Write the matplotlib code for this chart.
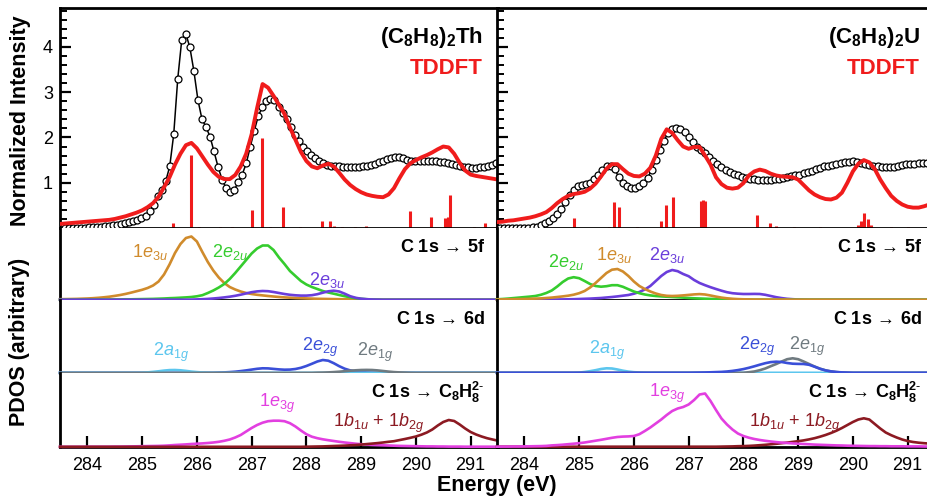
import numpy as np
import matplotlib
matplotlib.use("Agg")
import matplotlib.pyplot as plt
from matplotlib.ticker import MultipleLocator

plt.rcParams['font.family'] = ['Liberation Sans', 'DejaVu Sans']
plt.rcParams['mathtext.fontset'] = 'custom'
plt.rcParams['mathtext.rm'] = 'Liberation Sans'
plt.rcParams['mathtext.it'] = 'Liberation Sans:italic'
plt.rcParams['mathtext.bf'] = 'Liberation Sans:bold'

# ---------------------------------------------------------------- data
# common energy grid (eV) for the TDDFT spectra and PDOS curves
energy = np.round(np.arange(283.5, 291.55, 0.1), 2)

# experimental C K-edge spectra (sampled every ~0.074 eV)
th_exp_energy = np.round(283.59 + 0.0736 * np.arange(108), 3)
th_exp = [0.00, 0.00, 0.00, 0.01, 0.01, 0.01, 0.02, 0.02, 0.03, 0.03,
          0.04, 0.05, 0.06, 0.07, 0.09, 0.11, 0.13, 0.15, 0.17, 0.22,
          0.27, 0.37, 0.51, 0.70, 0.85, 1.03, 1.36, 2.07, 3.30, 4.16,
          4.29, 3.99, 3.47, 2.83, 2.41, 2.23, 2.02, 1.69, 1.35, 1.07,
          0.88, 0.79, 0.84, 1.01, 1.18, 1.43, 1.80, 2.15, 2.48, 2.67,
          2.81, 2.85, 2.82, 2.68, 2.54, 2.41, 2.24, 2.06, 1.93, 1.80,
          1.69, 1.62, 1.55, 1.47, 1.43, 1.40, 1.38, 1.37, 1.36, 1.35,
          1.34, 1.34, 1.34, 1.35, 1.36, 1.38, 1.40, 1.42, 1.45, 1.48,
          1.52, 1.55, 1.57, 1.56, 1.54, 1.51, 1.49, 1.48, 1.47, 1.47,
          1.47, 1.47, 1.47, 1.46, 1.45, 1.43, 1.41, 1.39, 1.37, 1.35,
          1.34, 1.33, 1.33, 1.34, 1.35, 1.37, 1.40, 1.44]

u_exp_energy = np.round(283.55 + 0.075 * np.arange(106), 3)
u_exp = [0.01, 0.01, 0.01, 0.01, 0.01, 0.01, 0.01, 0.01, 0.02, 0.03,
         0.06, 0.10, 0.15, 0.21, 0.30, 0.43, 0.57, 0.72, 0.84, 0.92,
         0.96, 0.97, 0.99, 1.08, 1.16, 1.28, 1.36, 1.38, 1.30, 1.12,
         1.00, 0.93, 0.89, 0.88, 0.93, 1.00, 1.11, 1.28, 1.50, 1.73,
         1.93, 2.10, 2.19, 2.21, 2.19, 2.11, 2.00, 1.89, 1.80, 1.73,
         1.65, 1.57, 1.49, 1.42, 1.35, 1.29, 1.23, 1.19, 1.16, 1.13,
         1.10, 1.08, 1.08, 1.07, 1.07, 1.07, 1.07, 1.08, 1.09, 1.10,
         1.12, 1.14, 1.16, 1.18, 1.21, 1.24, 1.27, 1.30, 1.33, 1.36,
         1.38, 1.40, 1.42, 1.44, 1.45, 1.46, 1.47, 1.46, 1.44, 1.42,
         1.40, 1.38, 1.36, 1.35, 1.35, 1.35, 1.35, 1.37, 1.40, 1.41,
         1.41, 1.42, 1.43, 1.43, 1.43, 1.43]

# broadened TDDFT spectra
th_tddft = [0.09, 0.10, 0.11, 0.12, 0.13, 0.14, 0.15, 0.16, 0.17, 0.18,
            0.20, 0.23, 0.26, 0.30, 0.34, 0.39, 0.46, 0.55, 0.69, 0.90,
            1.12, 1.40, 1.64, 1.83, 1.88, 1.76, 1.58, 1.40, 1.24, 1.13,
            1.08, 1.08, 1.17, 1.36, 1.64, 2.07, 2.65, 3.18, 3.10, 2.92,
            2.72, 2.52, 2.22, 1.95, 1.68, 1.48, 1.36, 1.32, 1.38, 1.42,
            1.36, 1.22, 1.07, 0.95, 0.86, 0.79, 0.74, 0.71, 0.69, 0.68,
            0.74, 0.88, 1.10, 1.30, 1.43, 1.50, 1.56, 1.61, 1.67, 1.74,
            1.80, 1.78, 1.64, 1.44, 1.27, 1.18, 1.15, 1.13, 1.11, 1.09,
            1.07]
u_tddft = [0.13, 0.14, 0.16, 0.17, 0.19, 0.21, 0.23, 0.26, 0.30, 0.35,
           0.44, 0.55, 0.64, 0.71, 0.75, 0.77, 0.80, 0.87, 0.98, 1.14,
           1.31, 1.41, 1.41, 1.30, 1.20, 1.15, 1.14, 1.20, 1.33, 1.60,
           1.97, 2.18, 2.10, 1.94, 1.80, 1.75, 1.79, 1.79, 1.60, 1.40,
           1.12, 0.97, 0.89, 0.87, 0.89, 0.99, 1.16, 1.25, 1.29, 1.26,
           1.20, 1.16, 1.14, 1.13, 1.12, 1.07, 0.95, 0.83, 0.74, 0.68,
           0.64, 0.63, 0.67, 0.78, 1.00, 1.25, 1.42, 1.50, 1.45, 1.30,
           1.07, 0.88, 0.71, 0.60, 0.52, 0.47, 0.45, 0.45, 0.48, 0.52,
           0.55]

# TDDFT oscillator strengths (stick spectra)
th_stick_e = [285.57, 285.89, 286.03, 286.43, 286.64, 287.00, 287.19, 287.34,
              287.58, 287.89, 288.28, 288.44, 288.50, 288.65, 288.89, 289.09,
              289.90, 290.28, 290.54, 290.58, 290.63, 291.06, 291.27, 291.48]
th_stick_f = [0.11, 1.62, 0.03, 0.02, 0.02, 0.39, 1.99, 0.03,
              0.46, 0.03, 0.15, 0.15, 0.05, 0.02, 0.02, 0.04,
              0.37, 0.24, 0.22, 0.24, 0.73, 0.03, 0.12, 0.15]
u_stick_e = [283.75, 284.90, 285.54, 285.64, 285.72, 286.05, 286.49, 286.58,
             286.71, 287.22, 287.26, 287.30, 288.25, 288.49, 288.60, 288.92,
             289.40, 290.10, 290.15, 290.21, 290.28, 290.34, 290.70, 291.00]
u_stick_f = [0.03, 0.21, 0.03, 0.57, 0.46, 0.02, 0.15, 0.51,
             0.68, 0.59, 0.61, 0.60, 0.29, 0.12, 0.04, 0.03,
             0.02, 0.06, 0.16, 0.33, 0.20, 0.06, 0.03, 0.02]

# partial densities of states (arbitrary units) on the common grid
th_1e3u = [0.8, 0.9, 1.0, 1.1, 1.3, 1.5, 1.8, 2.2, 2.7, 3.3,
           4.1, 5.0, 6.1, 7.4, 8.8, 10.2, 12.0, 14.5, 18.5, 25.5,
           35.5, 47.0, 56.0, 62.0, 63.5, 58.5, 48.0, 38.0, 29.5, 22.5,
           17.0, 13.0, 10.5, 8.5, 7.0, 6.0, 5.2, 4.6, 4.0, 3.5,
           3.0, 2.6, 2.3, 2.0, 1.8, 1.6, 1.4, 1.2, 1.1, 1.0,
           0.9, 0.8, 0.7, 0.6, 0.5, 0.5, 0.4, 0.4, 0.4, 0.3,
           0.3, 0.3, 0.3, 0.3, 0.3, 0.3, 0.3, 0.3, 0.3, 0.3,
           0.3, 0.3, 0.3, 0.3, 0.3, 0.3, 0.3, 0.3, 0.3, 0.3, 0.3]
th_2e2u = [0.3, 0.3, 0.3, 0.3, 0.4, 0.4, 0.4, 0.5, 0.5, 0.5,
           0.6, 0.6, 0.7, 0.7, 0.8, 0.9, 1.0, 1.1, 1.3, 1.5,
           1.8, 2.0, 2.3, 2.6, 3.0, 3.7, 4.8, 7.0, 9.5, 12.5,
           16.0, 21.0, 27.0, 33.5, 40.0, 46.5, 51.5, 54.5, 54.5, 50.0,
           42.5, 36.0, 29.0, 24.0, 19.0, 15.5, 13.0, 11.0, 9.0, 7.5,
           6.3, 5.0, 3.8, 2.7, 1.8, 1.2, 0.8, 0.5, 0.4, 0.3,
           0.3, 0.3, 0.3, 0.3, 0.3, 0.3, 0.3, 0.3, 0.3, 0.3,
           0.3, 0.3, 0.3, 0.3, 0.3, 0.3, 0.3, 0.3, 0.3, 0.3, 0.3]
th_2e3u = [0.3, 0.3, 0.3, 0.3, 0.3, 0.3, 0.3, 0.3, 0.3, 0.3,
           0.3, 0.3, 0.3, 0.3, 0.3, 0.3, 0.3, 0.3, 0.3, 0.3,
           0.3, 0.3, 0.3, 0.3, 0.4, 0.6, 0.8, 1.1, 1.5, 2.0,
           2.6, 3.3, 4.2, 5.3, 6.6, 7.8, 8.6, 9.0, 8.8, 8.0,
           7.0, 6.0, 5.2, 4.7, 4.4, 4.4, 4.8, 5.8, 7.3, 8.7,
           9.3, 8.5, 6.3, 3.8, 2.2, 1.3, 0.8, 0.5, 0.4, 0.3,
           0.3, 0.3, 0.3, 0.3, 0.3, 0.3, 0.3, 0.3, 0.3, 0.3,
           0.3, 0.3, 0.3, 0.3, 0.3, 0.3, 0.3, 0.3, 0.3, 0.3, 0.3]
th_2a1g = [0.2, 0.2, 0.2, 0.2, 0.2, 0.2, 0.2, 0.2, 0.2, 0.2,
           0.2, 0.2, 0.2, 0.2, 0.2, 0.3, 0.6, 1.1, 1.7, 2.4,
           2.9, 3.0, 2.7, 2.1, 1.4, 0.9, 0.5, 0.3, 0.2, 0.2,
           0.2, 0.2, 0.2, 0.2, 0.2, 0.2, 0.2, 0.2, 0.2, 0.2,
           0.2, 0.2, 0.2, 0.2, 0.2, 0.2, 0.2, 0.2, 0.2, 0.2,
           0.2, 0.2, 0.2, 0.2, 0.2, 0.2, 0.2, 0.2, 0.2, 0.2,
           0.2, 0.2, 0.2, 0.2, 0.2, 0.2, 0.2, 0.2, 0.2, 0.2,
           0.2, 0.2, 0.2, 0.2, 0.2, 0.2, 0.2, 0.2, 0.2, 0.2, 0.2]
th_2e2g = [0.2, 0.2, 0.2, 0.2, 0.2, 0.2, 0.2, 0.2, 0.2, 0.2,
           0.2, 0.2, 0.2, 0.2, 0.2, 0.2, 0.2, 0.2, 0.2, 0.2,
           0.2, 0.2, 0.2, 0.2, 0.2, 0.2, 0.2, 0.2, 0.2, 0.4,
           0.6, 0.9, 1.3, 1.9, 2.6, 3.4, 4.2, 4.7, 4.6, 4.1,
           3.6, 3.3, 3.4, 4.0, 5.2, 7.0, 9.2, 11.5, 13.0, 12.3,
           9.8, 6.8, 4.3, 2.6, 1.6, 1.0, 0.6, 0.4, 0.2, 0.2,
           0.2, 0.2, 0.2, 0.2, 0.2, 0.2, 0.2, 0.2, 0.2, 0.2,
           0.2, 0.2, 0.2, 0.2, 0.2, 0.2, 0.2, 0.2, 0.2, 0.2, 0.2]
th_2e1g = [0.1, 0.1, 0.1, 0.1, 0.1, 0.1, 0.1, 0.1, 0.1, 0.1,
           0.1, 0.1, 0.1, 0.1, 0.1, 0.1, 0.1, 0.1, 0.1, 0.1,
           0.1, 0.1, 0.1, 0.1, 0.1, 0.1, 0.1, 0.1, 0.1, 0.1,
           0.1, 0.1, 0.1, 0.1, 0.1, 0.1, 0.1, 0.1, 0.1, 0.1,
           0.1, 0.1, 0.1, 0.1, 0.1, 0.1, 0.1, 0.3, 0.4, 0.6,
           0.9, 1.3, 1.8, 2.3, 2.7, 3.0, 3.1, 3.0, 2.6, 2.0,
           1.4, 0.9, 0.6, 0.4, 0.2, 0.1, 0.1, 0.1, 0.1, 0.1,
           0.1, 0.1, 0.1, 0.1, 0.1, 0.1, 0.1, 0.1, 0.1, 0.1, 0.1]
th_1e3g = [0.2, 0.2, 0.2, 0.2, 0.2, 0.3, 0.3, 0.3, 0.3, 0.3,
           0.4, 0.4, 0.5, 0.6, 0.7, 0.8, 0.9, 1.0, 1.1, 1.3,
           1.6, 2.0, 2.3, 2.6, 3.0, 3.3, 3.6, 4.0, 4.5, 5.2,
           6.2, 7.5, 9.5, 12.0, 15.5, 19.0, 22.0, 24.3, 25.8, 26.3,
           26.3, 25.8, 23.8, 20.5, 16.5, 12.8, 10.3, 8.8, 7.7, 6.8,
           6.0, 5.2, 4.5, 3.9, 3.3, 2.8, 2.4, 2.1, 1.9, 1.7,
           1.5, 1.3, 1.1, 1.0, 0.9, 0.8, 0.7, 0.6, 0.6, 0.5,
           0.5, 0.4, 0.4, 0.4, 0.3, 0.3, 0.3, 0.3, 0.3, 0.3, 0.3]
th_1b = [0.2, 0.2, 0.2, 0.2, 0.2, 0.2, 0.2, 0.2, 0.2, 0.2,
         0.2, 0.2, 0.2, 0.2, 0.2, 0.2, 0.2, 0.2, 0.2, 0.2,
         0.2, 0.2, 0.2, 0.2, 0.2, 0.2, 0.2, 0.2, 0.2, 0.2,
         0.2, 0.2, 0.2, 0.2, 0.2, 0.2, 0.2, 0.2, 0.2, 0.2,
         0.2, 0.2, 0.2, 0.2, 0.2, 0.3, 0.4, 0.5, 0.6, 0.8,
         1.0, 1.2, 1.4, 1.7, 2.0, 2.4, 2.9, 3.4, 3.9, 4.5,
         5.2, 5.8, 6.9, 8.0, 9.2, 10.5, 12.3, 14.5, 17.5, 21.5,
         25.0, 27.0, 26.0, 22.5, 18.5, 15.0, 12.5, 10.5, 8.8, 7.5, 6.3]

u_2e2u = [0.7, 1.0, 1.4, 1.9, 2.4, 2.9, 3.4, 4.0, 5.2, 7.0,
          9.5, 13.5, 18.0, 21.5, 22.8, 21.8, 19.0, 16.0, 14.0, 13.3,
          13.8, 14.8, 14.8, 13.2, 10.8, 8.5, 6.8, 5.5, 4.6, 4.0,
          3.6, 3.3, 3.0, 2.7, 2.4, 2.0, 1.7, 1.5, 1.3, 1.1,
          1.0, 0.9, 0.8, 0.7, 0.6, 0.5, 0.5, 0.4, 0.4, 0.4,
          0.3, 0.3, 0.3, 0.3, 0.3, 0.3, 0.3, 0.3, 0.3, 0.3,
          0.3, 0.3, 0.3, 0.3, 0.3, 0.3, 0.3, 0.3, 0.3, 0.3,
          0.3, 0.3, 0.3, 0.3, 0.3, 0.3, 0.3, 0.3, 0.3, 0.3, 0.3]
u_1e3u = [0.5, 0.6, 0.7, 0.8, 0.9, 1.0, 1.2, 1.4, 1.6, 2.0,
          2.4, 3.0, 3.6, 4.3, 5.3, 6.8, 9.0, 12.5, 17.0, 22.0,
          27.0, 30.3, 31.0, 28.5, 24.0, 18.5, 14.0, 11.0, 8.5, 6.5,
          5.0, 4.2, 4.0, 4.2, 4.6, 5.1, 5.6, 5.9, 5.5, 4.5,
          3.4, 2.4, 1.7, 1.2, 0.9, 0.7, 0.6, 0.5, 0.5, 0.4,
          0.4, 0.4, 0.4, 0.4, 0.3, 0.3, 0.3, 0.3, 0.3, 0.3,
          0.3, 0.3, 0.3, 0.3, 0.3, 0.3, 0.3, 0.3, 0.3, 0.3,
          0.3, 0.3, 0.3, 0.3, 0.3, 0.3, 0.3, 0.3, 0.3, 0.3, 0.3]
u_2e3u = [0.3, 0.3, 0.3, 0.3, 0.3, 0.3, 0.3, 0.3, 0.4, 0.4,
          0.5, 0.5, 0.6, 0.7, 0.8, 1.0, 1.2, 1.4, 1.7, 2.0,
          2.5, 3.0, 3.6, 4.3, 5.0, 6.3, 8.0, 10.5, 14.0, 19.0,
          24.0, 28.0, 30.0, 28.8, 26.0, 23.8, 20.0, 17.0, 14.8, 12.8,
          11.0, 9.3, 7.8, 6.8, 6.3, 6.0, 6.0, 6.1, 6.0, 5.2,
          4.0, 2.8, 1.9, 1.2, 0.8, 0.5, 0.4, 0.3, 0.3, 0.3,
          0.3, 0.3, 0.3, 0.3, 0.3, 0.3, 0.3, 0.3, 0.3, 0.3,
          0.3, 0.3, 0.3, 0.3, 0.3, 0.3, 0.3, 0.3, 0.3, 0.3, 0.3]
u_2a1g = [0.2, 0.2, 0.2, 0.2, 0.2, 0.2, 0.2, 0.2, 0.2, 0.2,
          0.2, 0.2, 0.2, 0.2, 0.2, 0.4, 1.0, 1.8, 2.8, 4.0,
          4.7, 4.5, 3.5, 2.3, 1.4, 0.8, 0.5, 0.3, 0.2, 0.2,
          0.2, 0.2, 0.2, 0.2, 0.2, 0.2, 0.2, 0.2, 0.2, 0.2,
          0.2, 0.2, 0.2, 0.2, 0.2, 0.2, 0.2, 0.2, 0.2, 0.2,
          0.2, 0.2, 0.2, 0.2, 0.2, 0.2, 0.2, 0.2, 0.2, 0.2,
          0.2, 0.2, 0.2, 0.2, 0.2, 0.2, 0.2, 0.2, 0.2, 0.2,
          0.2, 0.2, 0.2, 0.2, 0.2, 0.2, 0.2, 0.2, 0.2, 0.2, 0.2]
u_2e2g = [0.2, 0.2, 0.2, 0.2, 0.2, 0.2, 0.2, 0.2, 0.2, 0.2,
          0.2, 0.2, 0.2, 0.2, 0.2, 0.2, 0.2, 0.2, 0.2, 0.2,
          0.2, 0.2, 0.2, 0.2, 0.2, 0.2, 0.2, 0.2, 0.2, 0.2,
          0.2, 0.2, 0.2, 0.2, 0.2, 0.2, 0.3, 0.4, 0.5, 0.7,
          0.9, 1.1, 1.5, 2.1, 2.9, 3.9, 5.2, 6.7, 8.3, 9.8,
          10.9, 11.3, 11.0, 10.0, 9.3, 9.1, 9.0, 8.2, 6.3, 4.2,
          2.6, 1.6, 1.0, 0.6, 0.4, 0.2, 0.2, 0.2, 0.2, 0.2,
          0.2, 0.2, 0.2, 0.2, 0.2, 0.2, 0.2, 0.2, 0.2, 0.2, 0.2]
u_2e1g = [0.2, 0.2, 0.2, 0.2, 0.2, 0.2, 0.2, 0.2, 0.2, 0.2,
          0.2, 0.2, 0.2, 0.2, 0.2, 0.2, 0.2, 0.2, 0.2, 0.2,
          0.2, 0.2, 0.2, 0.2, 0.2, 0.2, 0.2, 0.2, 0.2, 0.2,
          0.2, 0.2, 0.2, 0.2, 0.2, 0.2, 0.2, 0.2, 0.2, 0.2,
          0.2, 0.2, 0.2, 0.2, 0.2, 0.2, 0.8, 1.5, 2.8, 4.5,
          6.8, 9.0, 11.5, 13.8, 14.7, 13.8, 11.5, 9.0, 6.5, 4.3,
          2.7, 1.6, 0.9, 0.5, 0.3, 0.2, 0.2, 0.2, 0.2, 0.2,
          0.2, 0.2, 0.2, 0.2, 0.2, 0.2, 0.2, 0.2, 0.2, 0.2, 0.2]
u_1e3g = [0.3, 0.4, 0.4, 0.5, 0.5, 0.6, 0.7, 0.8, 0.9, 1.1,
          1.6, 1.9, 2.3, 2.8, 3.3, 3.8, 4.5, 5.4, 6.3, 7.2,
          8.2, 9.2, 10.0, 10.4, 10.6, 11.0, 12.8, 16.0, 19.5, 23.5,
          27.5, 32.0, 36.0, 38.5, 40.0, 42.5, 47.0, 52.5, 53.5, 46.0,
          37.0, 28.5, 22.5, 17.5, 13.5, 11.0, 9.3, 8.0, 7.0, 6.2,
          5.5, 4.9, 4.4, 4.0, 3.6, 3.3, 3.0, 2.7, 2.4, 2.2,
          2.0, 1.8, 1.6, 1.5, 1.3, 1.2, 1.1, 1.0, 0.9, 0.9,
          0.8, 0.8, 0.7, 0.7, 0.7, 0.6, 0.6, 0.6, 0.5, 0.5, 0.5]
u_1b = [0.3, 0.3, 0.3, 0.3, 0.3, 0.3, 0.3, 0.3, 0.3, 0.3,
        0.3, 0.3, 0.3, 0.3, 0.3, 0.3, 0.3, 0.3, 0.3, 0.3,
        0.3, 0.3, 0.3, 0.3, 0.3, 0.3, 0.3, 0.3, 0.3, 0.3,
        0.3, 0.3, 0.3, 0.3, 0.3, 0.3, 0.3, 0.3, 0.3, 0.3,
        0.3, 0.4, 0.5, 0.6, 0.8, 0.9, 1.1, 1.4, 1.8, 2.2,
        2.7, 3.2, 3.8, 4.4, 5.1, 5.8, 6.6, 7.6, 8.8, 10.3,
        12.0, 14.0, 16.3, 19.0, 22.0, 25.0, 27.5, 28.7, 27.5, 23.0,
        18.5, 14.5, 11.8, 9.5, 7.5, 6.0, 5.0, 4.3, 3.8, 3.4, 3.0]

energy_ticks = [284, 285, 286, 287, 288, 289, 290, 291]

# ---------------------------------------------------------------- style
RED = '#f01c1c'
C_1E3U = '#d08b2c'
C_2E2U = '#35cc2e'
C_2E3U = '#6a3ddb'
C_2A1G = '#5cc6ee'
C_2E2G = '#3a4fd8'
C_2E1G = '#6f7a80'
C_1E3G = '#e23fe0'
C_1B = '#8c1a22'

W, H = 927, 496
fig = plt.figure(figsize=(W / 100, H / 100), dpi=100)

# panel rows in pixels (top, bottom) and column left edges
rows = {'spec': (8, 228), '5f': (228, 300), '6d': (300, 373), 'lig': (373, 447)}
col_left = [60, 497]
col_width = 438


def make_axes(col, row):
    top, bot = rows[row]
    ax = fig.add_axes([col_left[col] / W, 1 - bot / H, col_width / W, (bot - top) / H])
    ax.set_xlim(283.5, 291.5)
    for s in ax.spines.values():
        s.set_linewidth(2.0)
        s.set_color('black')
    return ax


def spectrum_panel(col, title, exp_e, exp_y, tddft, stick_e, stick_f):
    ax = make_axes(col, 'spec')
    ax.set_ylim(0, 4.86)
    ax.vlines(stick_e, 0, stick_f, color=RED, lw=2.2, zorder=2)
    ax.plot(exp_e, exp_y, color='black', lw=1.1, marker='o', ms=5.0,
            mfc='white', mec='black', mew=0.9, zorder=3)
    ax.plot(energy, tddft, color=RED, lw=2.8, zorder=4, solid_capstyle='round')
    ax.set_yticks([1, 2, 3, 4])
    ax.yaxis.set_minor_locator(MultipleLocator(0.2))
    ax.tick_params(axis='y', which='major', direction='in', length=8, width=1.6,
                   labelsize=13, pad=5, labelleft=(col == 0))
    ax.tick_params(axis='y', which='minor', direction='in', length=5, width=1.4)
    ax.tick_params(axis='x', which='both', bottom=False, labelbottom=False)
    ax.text(0.966, 0.864, title, transform=ax.transAxes, ha='right', va='center',
            fontsize=16, color='black')
    ax.text(0.966, 0.727, 'TDDFT', transform=ax.transAxes, ha='right', va='center',
            fontsize=16, fontweight='bold', color=RED)
    return ax


def pdos_panel(col, row, header, curves, labels, bottom=False):
    ax = make_axes(col, row)
    top, bot = rows[row]
    ax.set_ylim(0, bot - top)
    ax.spines['top'].set_visible(False)
    for values, color in curves:
        ax.plot(energy, values, color=color, lw=1.9, clip_on=False, zorder=3)
    for (x, y, text, color) in labels:
        ax.text(x, y, text, ha='center', va='center', fontsize=13, color=color)
    ax.text(0.970, 0.735, header, transform=ax.transAxes, ha='right', va='center',
            fontsize=13, color='black')
    ax.set_yticks([])
    if bottom:
        ax.set_xticks(energy_ticks)
        ax.tick_params(axis='x', direction='in', length=8, width=1.6,
                       labelsize=13, pad=7)
    else:
        ax.tick_params(axis='x', which='both', bottom=False, labelbottom=False)
    return ax


ARROW = r'\,\rightarrow\,'
HDR_5F = r'$\mathbf{C\ 1s}' + ARROW + r'\mathbf{5f}$'
HDR_6D = r'$\mathbf{C\ 1s}' + ARROW + r'\mathbf{6d}$'
HDR_LIG = r'$\mathbf{C\ 1s}' + ARROW + r'\mathbf{C_8H_8^{2\text{-}}}$'

L_1E3U = r'1$e_{3u}$'
L_2E2U = r'2$e_{2u}$'
L_2E3U = r'2$e_{3u}$'
L_2A1G = r'2$a_{1g}$'
L_2E2G = r'2$e_{2g}$'
L_2E1G = r'2$e_{1g}$'
L_1E3G = r'1$e_{3g}$'
L_1B = r'1$b_{1u}$ + 1$b_{2g}$'

# ---- (C8H8)2Th column
spectrum_panel(0, r'$\mathbf{(C_8H_8)_2Th}$', th_exp_energy, th_exp, th_tddft,
               th_stick_e, th_stick_f)
pdos_panel(0, '5f', HDR_5F,
           [(th_1e3u, C_1E3U), (th_2e2u, C_2E2U), (th_2e3u, C_2E3U)],
           [(285.15, 48, L_1E3U, C_1E3U), (286.61, 48, L_2E2U, C_2E2U),
            (288.38, 20, L_2E3U, C_2E3U)])
pdos_panel(0, '6d', HDR_6D,
           [(th_2e2g, C_2E2G), (th_2a1g, C_2A1G), (th_2e1g, C_2E1G)],
           [(285.53, 21, L_2A1G, C_2A1G), (288.25, 26, L_2E2G, C_2E2G),
            (289.26, 21, L_2E1G, C_2E1G)])
pdos_panel(0, 'lig', HDR_LIG,
           [(th_1e3g, C_1E3G), (th_1b, C_1B)],
           [(287.46, 44, L_1E3G, C_1E3G), (289.32, 24, L_1B, C_1B)],
           bottom=True)

# ---- (C8H8)2U column
spectrum_panel(1, r'$\mathbf{(C_8H_8)_2U}$', u_exp_energy, u_exp, u_tddft,
               u_stick_e, u_stick_f)
pdos_panel(1, '5f', HDR_5F,
           [(u_2e3u, C_2E3U), (u_2e2u, C_2E2U), (u_1e3u, C_1E3U)],
           [(284.76, 38, L_2E2U, C_2E2U), (285.63, 45, L_1E3U, C_1E3U),
            (286.60, 45, L_2E3U, C_2E3U)])
pdos_panel(1, '6d', HDR_6D,
           [(u_2a1g, C_2A1G), (u_2e1g, C_2E1G), (u_2e2g, C_2E2G)],
           [(285.51, 23, L_2A1G, C_2A1G), (288.24, 27, L_2E2G, C_2E2G),
            (289.17, 27, L_2E1G, C_2E1G)])
pdos_panel(1, 'lig', HDR_LIG,
           [(u_1b, C_1B), (u_1e3g, C_1E3G)],
           [(286.61, 54, L_1E3G, C_1E3G), (288.93, 24, L_1B, C_1B)],
           bottom=True)

# shared axis titles
fig.text(21 / W, 1 - 121 / H, 'Normalized Intensity', rotation=90, ha='center',
         va='center', fontsize=15.5, fontweight='bold')
fig.text(20 / W, 1 - 342 / H, 'PDOS (arbitrary)', rotation=90, ha='center',
         va='center', fontsize=15.5, fontweight='bold')
fig.text(497 / W, 1 - 485 / H, 'Energy (eV)', ha='center', va='center',
         fontsize=15.5, fontweight='bold')

fig.savefig('out.png', dpi=100)
